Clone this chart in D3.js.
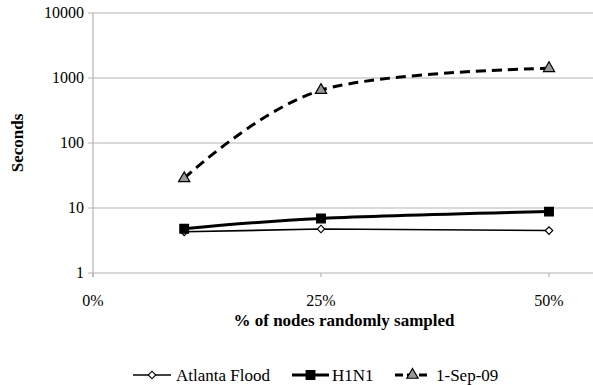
<!DOCTYPE html>
<html>
<head>
	<script src="https://cdn.jsdelivr.net/npm/d3@7"></script>
</head>
<body style="margin:0">
	<script>
		var width = 593, height = 385;
		var fontName = "Liberation Serif";

		// data
		var samples   = [0.10, 0.25, 0.50];
		var flood     = [4.3, 4.75, 4.5];
		var h1n1      = [4.8, 6.9, 8.8];
		var sep09     = [28.6, 650, 1410];
		var seriesNames = ["Atlanta Flood", "H1N1", "1-Sep-09"];
		var xTicks = [0, 0.25, 0.5];
		var yTicks = [1, 10, 100, 1000, 10000];

		var svg = d3.select("body").append("svg")
			.attr("width", width)
			.attr("height", height);

		var x = d3.scaleLinear().domain([0, 0.5]).range([93, 549]);
		var y = d3.scaleLog().domain([1, 10000]).range([273, 13]);

		var addText = function(sel, size, weight) {
			return sel.attr("font-family", fontName)
				.style("font-family", "'" + fontName + "'")
				.style("font-size", size + "px")
				.style("font-weight", weight || "normal");
		};

		/* gridlines */
		svg.append("g").selectAll("line")
			.data(yTicks)
			.enter().append("line")
			.attr("x1", 88).attr("x2", 600)
			.attr("y1", d => y(d)).attr("y2", d => y(d))
			.attr("stroke", "#b3b3b3").attr("stroke-width", 1.2);

		// y axis line
		svg.append("line")
			.attr("x1", 93).attr("x2", 93)
			.attr("y1", y(10000)).attr("y2", y(1) + 4)
			.attr("stroke", "#b3b3b3").attr("stroke-width", 1.2);

		// x ticks
		svg.append("g").selectAll("line")
			.data(xTicks)
			.enter().append("line")
			.attr("x1", d => x(d)).attr("x2", d => x(d))
			.attr("y1", y(1)).attr("y2", y(1) + 4)
			.attr("stroke", "#b3b3b3").attr("stroke-width", 1.2);

		addText(svg.append("g").selectAll("text")
			.data(yTicks)
			.enter().append("text")
			.attr("x", 84).attr("y", d => y(d) + 5)
			.attr("text-anchor", "end")
			.text(d => d), 16);

		addText(svg.append("g").selectAll("text")
			.data(xTicks)
			.enter().append("text")
			.attr("x", d => x(d)).attr("y", 306)
			.attr("text-anchor", "middle")
			.text(d => d3.format(".0%")(d)), 16);

		// axis titles
		addText(svg.append("text")
			.attr("x", 344).attr("y", 326)
			.attr("text-anchor", "middle")
			.text("% of nodes randomly sampled"), 17, "bold");

		addText(svg.append("text")
			.attr("transform", "translate(23,143) rotate(-90)")
			.attr("text-anchor", "middle")
			.text("Seconds"), 17, "bold");

		/* series */
		var toPts = vals => samples.map((s, i) => [s, vals[i]]);
		var straight = d3.line().x(d => x(d[0])).y(d => y(d[1]));
		var smooth = d3.line().x(d => x(d[0])).y(d => y(d[1])).curve(d3.curveCatmullRom.alpha(0));

		svg.append("path").datum(toPts(flood))
			.attr("d", straight).attr("fill", "none")
			.attr("stroke", "#000").attr("stroke-width", 1.6);

		svg.append("path").datum(toPts(h1n1))
			.attr("d", smooth).attr("fill", "none")
			.attr("stroke", "#000").attr("stroke-width", 3);

		svg.append("path").datum(toPts(sep09))
			.attr("d", smooth).attr("fill", "none")
			.attr("stroke", "#000").attr("stroke-width", 3)
			.attr("stroke-dasharray", "10,6");

		var diamond = d3.symbol().type(d3.symbolSquare).size(28);
		var square = d3.symbol().type(d3.symbolSquare).size(75);
		var tri = d3.symbol().type(d3.symbolTriangle).size(55);

		var drawMarks = function(pts, sym, fill, rot) {
			svg.append("g").selectAll("path")
				.data(pts)
				.enter().append("path")
				.attr("d", sym)
				.attr("transform", d => "translate(" + x(d[0]) + "," + y(d[1]) + ") rotate(" + rot + ")")
				.attr("fill", fill).attr("stroke", "#000").attr("stroke-width", 1.2);
		};
		drawMarks(toPts(flood), diamond, "#fff", 45);
		drawMarks(toPts(h1n1), square, "#000", 0);
		drawMarks(toPts(sep09), tri, "#999", 0);

		/* legend */
		var legY = 375;
		var legend = [
			{ name: seriesNames[0], x1: 133, x2: 171, sym: diamond, fill: "#fff", rot: 45, w: 1.6, dash: null, tx: 176 },
			{ name: seriesNames[1], x1: 292, x2: 329, sym: square, fill: "#000", rot: 0, w: 3, dash: null, tx: 332 },
			{ name: seriesNames[2], x1: 395, x2: 430, sym: tri, fill: "#999", rot: 0, w: 3, dash: "8,4", tx: 436 }
		];
		legend.forEach(function(l) {
			svg.append("line")
				.attr("x1", l.x1).attr("x2", l.x2)
				.attr("y1", legY).attr("y2", legY)
				.attr("stroke", "#000").attr("stroke-width", l.w)
				.attr("stroke-dasharray", l.dash);
			svg.append("path")
				.attr("d", l.sym)
				.attr("transform", "translate(" + ((l.x1 + l.x2) / 2) + "," + legY + ") rotate(" + l.rot + ")")
				.attr("fill", l.fill).attr("stroke", "#000").attr("stroke-width", 1.2);
			addText(svg.append("text")
				.attr("x", l.tx).attr("y", legY + 6)
				.text(l.name), 17);
		});
	</script>
</body>
</html>
